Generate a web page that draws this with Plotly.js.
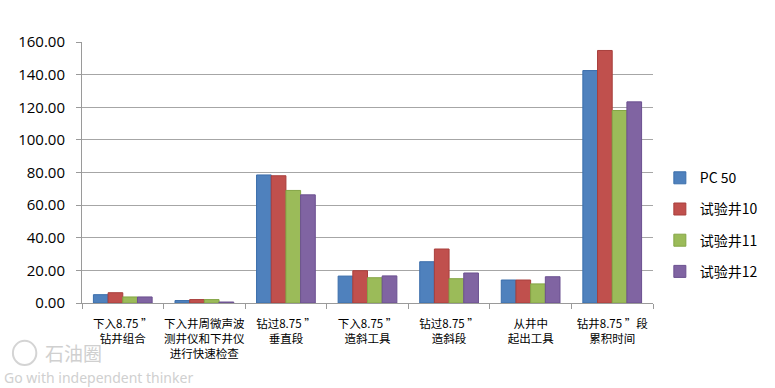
<!DOCTYPE html>
<html>
<head>
<meta charset="utf-8">
<script src="https://cdn.plot.ly/plotly-3.0.1.min.js"></script>
<style>html,body{margin:0;padding:0;background:#fff;}#chart{width:775px;height:388px;}</style>
</head>
<body>
<div id="chart"></div>
<script>
const categories = [
  "下入8.75 ”<br>钻井组合",
  "下入井周微声波<br>测井仪和下井仪<br>进行快速检查",
  "钻过8.75 ”<br>垂直段",
  "下入8.75 ”<br>造斜工具",
  "钻过8.75 ”<br>造斜段",
  "从井中<br>起出工具",
  "钻井8.75 ”段<br>累积时间"
];
const seriesNames = ["PC 50", "试验井10", "试验井11", "试验井12"];
const pc50   = [5.1, 1.5, 78.5, 16.5, 25.3, 14.1, 142.5];
const well10 = [6.3, 2.1, 78.0, 19.8, 33.1, 14.1, 154.8];
const well11 = [3.7, 2.1, 69.0, 15.5, 14.9, 11.7, 118.0];
const well12 = [3.7, 0.6, 66.3, 16.6, 18.4, 16.1, 123.3];
const yTicks = [0, 20, 40, 60, 80, 100, 120, 140, 160];

const colors = ["#4F81BD", "#C0504D", "#9BBB59", "#8064A2"];
const borders = ["#3B6EAB", "#A83F3C", "#84A546", "#6B5090"];
const seriesValues = [pc50, well10, well11, well12];

const traces = seriesValues.map((vals, i) => ({
  type: "bar",
  name: seriesNames[i],
  x: categories,
  y: vals,
  legendgroup: "g" + i,
  marker: {color: colors[i], line: {color: borders[i], width: 1}},
  hoverinfo: "y+name"
}));

const layout = {
  width: 775,
  height: 388,
  margin: {l: 82, r: 108, t: 42, b: 85},
  paper_bgcolor: "#ffffff",
  plot_bgcolor: "#ffffff",
  bargap: 0.28,
  bargroupgap: 0,
  barmode: "group",
  font: {family: "Noto Sans CJK SC, Noto Sans, sans-serif", color: "#000"},
  xaxis: {
    type: "category",
    tickangle: 0,
    tickfont: {size: 11.5, family: "Noto Sans CJK SC", color: "#000"},
    showline: true,
    linecolor: "#9a9a9a",
    linewidth: 1,
    ticks: "outside",
    tickson: "boundaries",
    ticklen: 5,
    tickcolor: "#9a9a9a",
    ticklabelstandoff: 10,
    showgrid: false,
    fixedrange: true
  },
  yaxis: {
    range: [0, 160],
    tickvals: yTicks,
    ticktext: yTicks.map(v => v.toFixed(2)),
    tickfont: {size: 15, family: "Open Sans, Noto Sans, sans-serif", color: "#000"},
    showline: true,
    linecolor: "#9a9a9a",
    linewidth: 1,
    ticks: "outside",
    ticklen: 5,
    tickcolor: "#9a9a9a",
    ticklabelstandoff: 8,
    showgrid: true,
    gridcolor: "#a6a6a6",
    gridwidth: 1,
    zeroline: false,
    fixedrange: true
  },
  legend: {
    x: 1.012,
    xanchor: "left",
    y: 0.30,
    yanchor: "middle",
    font: {size: 14, family: "Noto Sans CJK SC, Noto Sans, sans-serif", color: "#000"},
    tracegroupgap: 10,
    itemwidth: 30,
    bgcolor: "rgba(0,0,0,0)"
  },
  shapes: [
    {type: "circle", xref: "paper", yref: "paper", x0: -0.121, x1: -0.080, y0: -0.238, y1: -0.145,
     line: {color: "#d4d4d4", width: 2}, fillcolor: "rgba(0,0,0,0)"}
  ],
  annotations: [
    {text: "石油圈", xref: "paper", yref: "paper", x: -0.068, y: -0.19, xanchor: "left", yanchor: "middle",
     showarrow: false, font: {size: 19, color: "#d0d0d0", family: "Noto Sans CJK SC"}},
    {text: "Go with independent thinker", xref: "paper", yref: "paper", x: -0.14, y: -0.287, xanchor: "left", yanchor: "middle",
     showarrow: false, font: {size: 14, color: "#d0d0d0", family: "Noto Sans, sans-serif"}}
  ]
};

Plotly.newPlot("chart", traces, layout, {displayModeBar: false, staticPlot: true});
</script>
</body>
</html>
